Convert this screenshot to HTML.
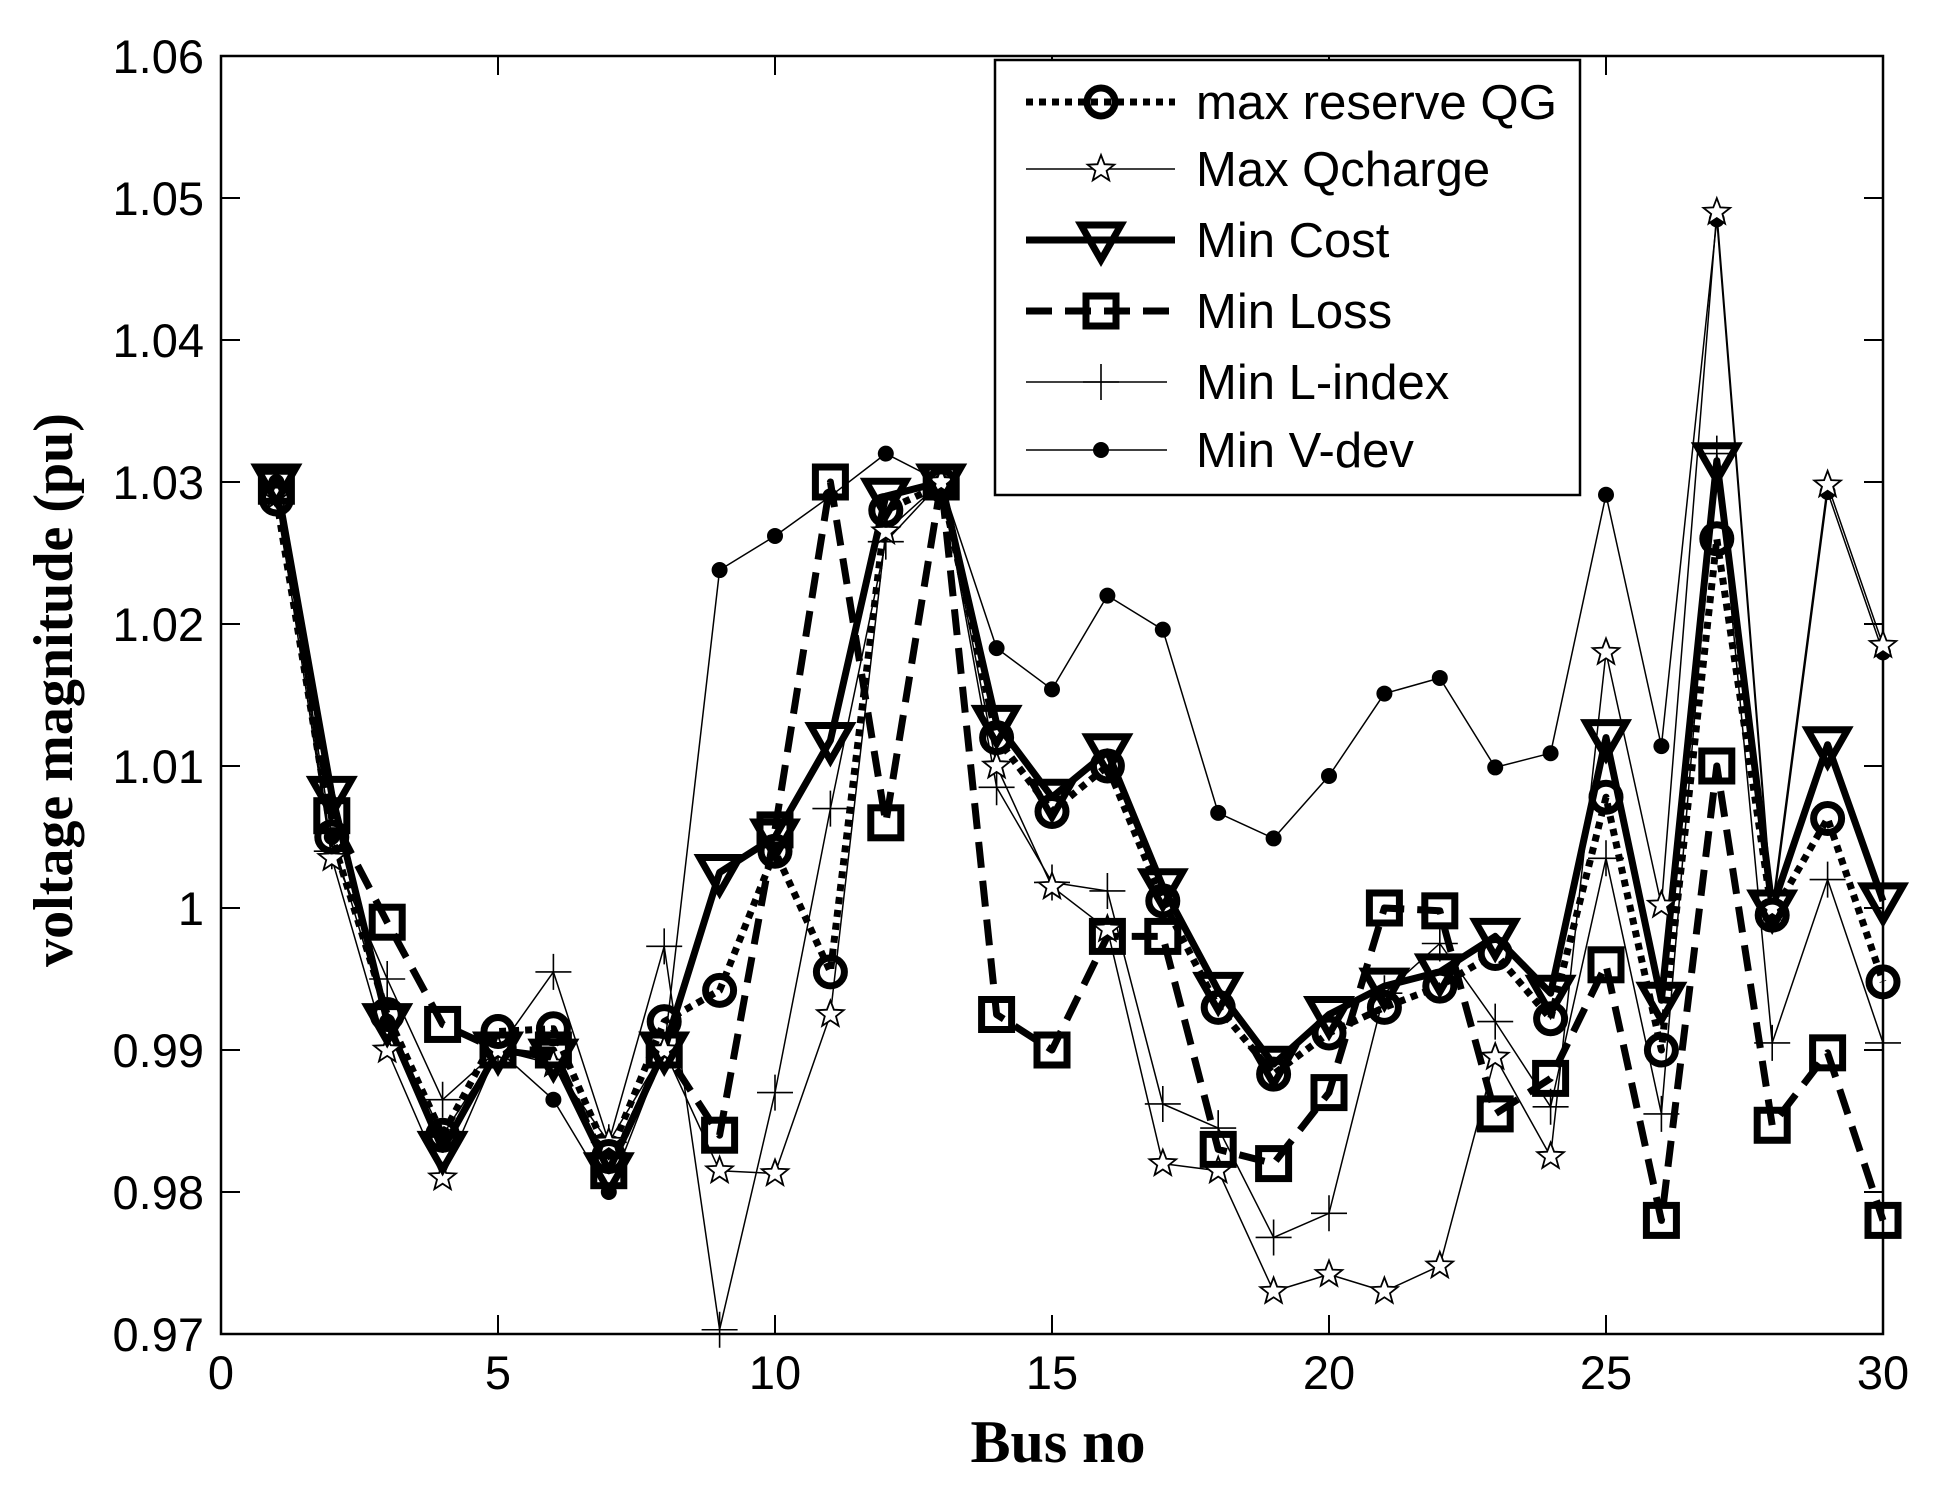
<!DOCTYPE html>
<html><head><meta charset="utf-8"><style>
html,body{margin:0;padding:0;background:#fff;}
svg{display:block;}
text{font-family:"Liberation Sans",Arial,sans-serif;fill:#000;}
</style></head><body>
<svg id="s" width="1941" height="1498" viewBox="0 0 1941 1498" xmlns="http://www.w3.org/2000/svg"></svg>
<script>
const s=document.getElementById('s');
const X=b=>221+55.4*b, Y=v=>56+14200*(1.06-v);
let h='<rect x="0" y="0" width="1941" height="1498" fill="#fff"/>';
const qg=[1.0288,1.005,0.9925,0.984,0.9913,0.9915,0.9825,0.992,0.9942,1.004,0.9955,1.028,1.0298,1.012,1.0068,1.010,1.0005,0.993,0.9883,0.9912,0.993,0.9945,0.9968,0.9922,1.0078,0.990,1.026,0.9995,1.0063,0.9948];
const cost=[1.030,1.008,0.992,0.983,0.990,0.9895,0.9815,0.990,1.0025,1.005,1.0118,1.029,1.030,1.013,1.0078,1.011,1.0015,0.9942,0.989,0.9925,0.9945,0.9955,0.998,0.994,1.012,0.9935,1.0315,1.000,1.0115,1.0005];
const loss=[1.0297,1.0065,0.999,0.9918,0.990,0.990,0.9815,0.990,0.984,1.0055,1.030,1.006,1.030,0.9925,0.990,0.998,0.998,0.983,0.982,0.987,1.000,0.9998,0.9855,0.988,0.996,0.978,1.010,0.9847,0.9898,0.978];
const qc=[1.029,1.0035,0.990,0.981,0.990,0.989,0.9835,0.990,0.9815,0.9813,0.9925,1.0265,1.030,1.010,1.0015,0.9985,0.982,0.9815,0.973,0.9742,0.973,0.9748,0.9895,0.9825,1.018,1.0002,1.049,1.0,1.0298,1.0185];
const li=[1.030,1.004,0.995,0.9865,0.990,0.9955,0.9835,0.9973,0.9703,0.987,1.007,1.0258,1.030,1.0085,1.0018,1.0012,0.9862,0.9845,0.9768,0.9785,0.994,0.9975,0.992,0.986,1.0035,0.9855,1.032,0.9905,1.002,0.9905];
const vd=[1.030,1.005,0.992,0.984,0.990,0.9865,0.980,0.990,1.0238,1.0262,1.029,1.032,1.030,1.0183,1.0154,1.022,1.0196,1.0067,1.0049,1.0093,1.0151,1.0162,1.0099,1.0109,1.0291,1.0114,1.0485,0.9995,1.0293,1.018];
function pts(d){return d.map((v,i)=>X(i+1).toFixed(1)+','+Y(v).toFixed(1)).join(' ');}
function line(d,w,dash){return `<polyline points="${pts(d)}" fill="none" stroke="#000" stroke-width="${w}" ${dash?'stroke-dasharray="'+dash+'"':''} stroke-linejoin="round"/>`;}
function star(x,y,r){let p=[];for(let k=0;k<10;k++){const a=-Math.PI/2+k*Math.PI/5,rr=k%2?r*0.42:r;p.push((x+rr*Math.cos(a)).toFixed(1)+','+(y+rr*Math.sin(a)).toFixed(1));}return `<polygon points="${p.join(' ')}" fill="#fff" stroke="#000" stroke-width="1.8"/>`;}
function circ(x,y){return `<circle cx="${x}" cy="${y}" r="14" fill="none" stroke="#000" stroke-width="7"/>`;}
function tri(x,y){return `<polygon points="${x-20},${y-15} ${x+20},${y-15} ${x},${y+20}" fill="none" stroke="#000" stroke-width="7" stroke-linejoin="miter"/>`;}
function sq(x,y){return `<rect x="${x-15}" y="${y-15}" width="30" height="30" fill="none" stroke="#000" stroke-width="7"/>`;}
function plus(x,y){return `<path d="M${x-18},${y}H${x+18}M${x},${y-18}V${y+18}" stroke="#000" stroke-width="1.6"/>`;}
function dot(x,y){return `<circle cx="${x}" cy="${y}" r="8" fill="#000"/>`;}
function marks(d,f){return d.map((v,i)=>f(X(i+1),Y(v))).join('');}
for(let i=0;i<=9;i++){const v=0.97+i*0.01,y=Y(v);
 h+=`<path d="M221,${y}h19M1883,${y}h-19" stroke="#000" stroke-width="2"/>`;
 h+=`<text x="204" y="${y+17}" font-size="47" text-anchor="end">${i==3?'1':v.toFixed(2)}</text>`;}
for(let b=0;b<=30;b+=5){const x=X(b);
 h+=`<path d="M${x},1334v-19M${x},56v19" stroke="#000" stroke-width="2"/>`;
 h+=`<text x="${x}" y="1389" font-size="47" text-anchor="middle">${b}</text>`;}
h+=`<rect x="221" y="56" width="1662" height="1278" fill="none" stroke="#000" stroke-width="2.5"/>`;
h+=line(vd,1.5)+line(li,1.5)+line(qc,1.5);
h+=line(loss,7,'26 13')+line(cost,7)+line(qg,7,'7 6');
h+=marks(vd,dot)+marks(li,plus)+marks(qc,(x,y)=>star(x,y,14));
h+=marks(loss,sq)+marks(cost,tri)+marks(qg,circ);
// legend
h+=`<rect x="995" y="60" width="585" height="435" fill="#fff" stroke="#000" stroke-width="2.5"/>`;
const L=[['max reserve QG',102,361],['Max Qcharge',169,],['Min Cost',240],['Min Loss',311],['Min L-index',382],['Min V-dev',450]];
const a=1026,b=1175,m=1101;
h+=`<line x1="${a}" y1="102" x2="${b}" y2="102" stroke="#000" stroke-width="7" stroke-dasharray="7 6"/>`+circ(m,102);
h+=`<line x1="${a}" y1="169" x2="${b}" y2="169" stroke="#000" stroke-width="1.5"/>`+star(m,169,14);
h+=`<line x1="${a}" y1="240" x2="${b}" y2="240" stroke="#000" stroke-width="7"/>`+tri(m,240);
h+=`<line x1="${a}" y1="311" x2="${b}" y2="311" stroke="#000" stroke-width="7" stroke-dasharray="26 13"/>`+sq(m,311);
h+=`<line x1="${a}" y1="382" x2="${b-8}" y2="382" stroke="#000" stroke-width="1.5"/>`+plus(m,382);
h+=`<line x1="${a}" y1="450" x2="${b-8}" y2="450" stroke="#000" stroke-width="1.5"/>`+dot(m,450);
L.forEach(([t,y,w])=>{h+=`<text x="1196" y="${y+17}" font-size="49" ${w?'textLength="'+w+'" lengthAdjust="spacingAndGlyphs"':''}>${t}</text>`;});
h+=`<text x="1058" y="1462" font-size="60" font-weight="bold" text-anchor="middle" style="font-family:'Liberation Serif',serif">Bus no</text>`;
h+=`<text transform="translate(72,690) rotate(-90)" font-size="56" font-weight="bold" text-anchor="middle" style="font-family:'Liberation Serif',serif">voltage magnitude (pu)</text>`;
s.innerHTML=h;
</script>
</body></html>
